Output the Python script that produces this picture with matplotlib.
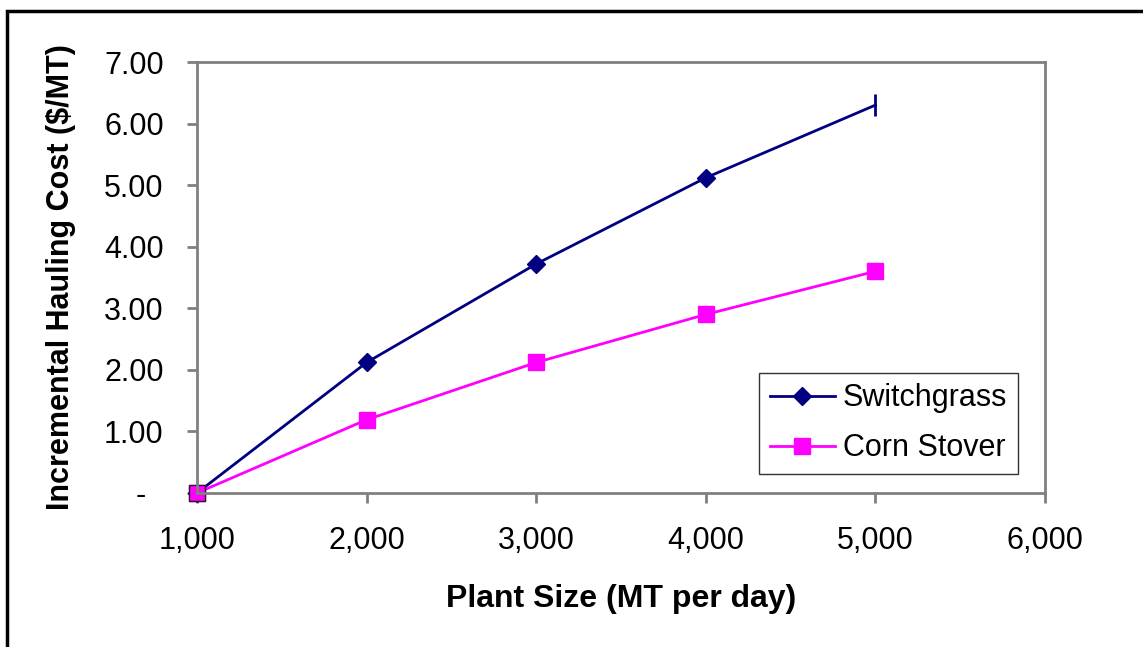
import matplotlib
matplotlib.use("Agg")
import matplotlib.pyplot as plt
from matplotlib.patches import Rectangle
from matplotlib.ticker import FuncFormatter

plant_size = [1000, 2000, 3000, 4000, 5000]
switchgrass = [0.0, 2.12, 3.72, 5.12, 6.30]
corn_stover = [0.0, 1.19, 2.12, 2.90, 3.60]

x_ticks = [1000, 2000, 3000, 4000, 5000, 6000]
y_ticks = [0, 1, 2, 3, 4, 5, 6, 7]

plt.rcParams['font.family'] = ['Liberation Sans', 'DejaVu Sans']

fig = plt.figure(figsize=(11.43, 6.47), dpi=100)
W, H = 1143, 647
# outer frame
fig.patches.append(Rectangle((7 / W, -0.05), 1.2, 1 - 11 / H + 0.05, transform=fig.transFigure,
                             fill=False, edgecolor='black', linewidth=2.5))

ax = fig.add_axes([197 / W, 1 - 493 / H, 848 / W, 431 / H])

navy = '#000080'
mag = '#FF00FF'
ax.plot(plant_size, switchgrass, color=navy, lw=2, marker='D', markersize=9,
        markevery=[0, 1, 2, 3], markerfacecolor=navy, markeredgecolor=navy, label='Switchgrass')
ax.plot(plant_size[-1:], switchgrass[-1:], color=navy, lw=0, marker='|', markersize=16,
        markeredgewidth=2)
ax.plot(plant_size, corn_stover, color=mag, lw=2, marker='s', markersize=11,
        markerfacecolor=mag, markeredgecolor=mag, label='Corn Stover')
# first point has a dark outline
ax.plot(plant_size[:1], corn_stover[:1], lw=0, marker='s', markersize=11,
        markerfacecolor=mag, markeredgecolor='#202020', markeredgewidth=1)

ax.set_xlim(1000, 6000)
ax.set_ylim(0, 7)
ax.set_xticks(x_ticks)
ax.set_yticks(y_ticks)
ax.xaxis.set_major_formatter(FuncFormatter(lambda v, p: f"{int(v):,}"))
ax.yaxis.set_major_formatter(FuncFormatter(lambda v, p: '-  ' if v == 0 else f"{v:.2f}"))
ax.tick_params(axis='both', labelsize=22, color='#808080', width=2, length=7, direction='out')
ax.tick_params(axis='x', pad=17)
ax.tick_params(axis='y', pad=17)
for s in ax.spines.values():
    s.set_color('#808080')
    s.set_linewidth(2)
for l in ax.lines:
    l.set_clip_on(False)

ax.set_xlabel('Plant Size (MT per day)', fontsize=23, fontweight='bold', labelpad=20)
ax.set_ylabel('Incremental Hauling Cost ($/MT)', fontsize=22, fontweight='bold', labelpad=20)

leg = ax.legend(loc='lower right', bbox_to_anchor=(1018 / W, 1 - 474 / H),
                bbox_transform=fig.transFigure, fontsize=22, frameon=True, fancybox=False,
                handlelength=2.15, handletextpad=0.25, borderpad=0.35, labelspacing=0.65,
                borderaxespad=0)
leg.get_frame().set_edgecolor('black')
leg.get_frame().set_linewidth(1)

fig.savefig('out.png', dpi=100)
